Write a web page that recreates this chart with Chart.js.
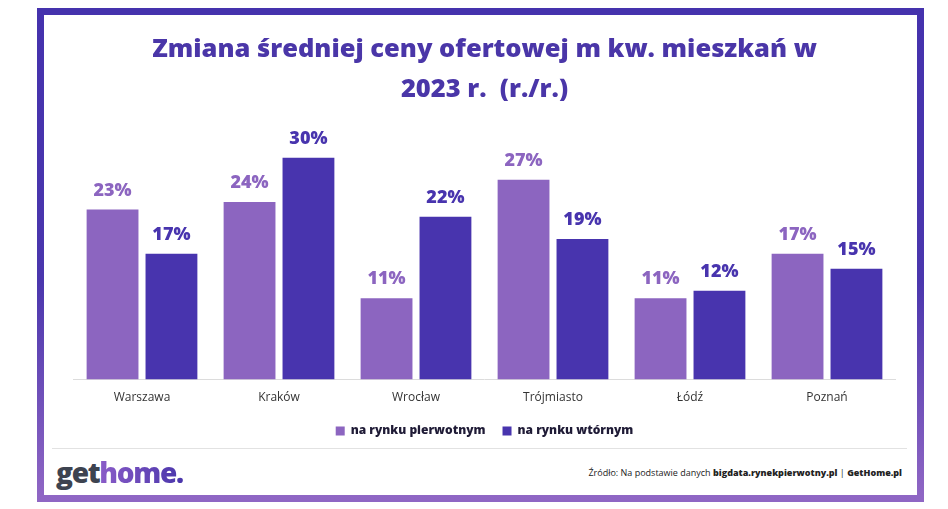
<!DOCTYPE html>
<html>
<head>
<meta charset="utf-8">
<script src="https://cdn.jsdelivr.net/npm/chart.js@4"></script>
<style>
  html, body { margin:0; padding:0; background:#fff; width:948px; height:509px; overflow:hidden; }
  #frame { position:absolute; left:37px; top:8px; width:873px; height:480px; border:7px solid;
           border-image: linear-gradient(to bottom, #4532ad, #4a36ad 55%, #8f66c4) 1; }
  #wrap { position:absolute; left:44px; top:15px; width:874px; height:432px; }
  #sep { position:absolute; left:52px; top:448px; width:855px; height:1px; background:#e2e2e2; }
  #logo { position:absolute; left:56px; top:455px; font-family:"Open Sans", sans-serif; font-weight:800;
          font-size:28px; letter-spacing:-1.3px; line-height:34px; }
  #logo .g { color:#3d4350; }
  #logo .h { background: linear-gradient(to right, #8a5cc8, #4a36ab); -webkit-background-clip:text; background-clip:text; color:transparent; }
  #src { position:absolute; right:46px; top:466px; font-family:"Open Sans", sans-serif; font-size:9px; color:#222; line-height:13px; white-space:nowrap; }
  #src b { font-weight:800; }
</style>
</head>
<body>
<div id="frame"></div>
<div id="sep"></div>
<div id="wrap"><canvas id="c"></canvas></div>
<div id="logo"><span class="g">get</span><span class="h">home.</span></div>
<div id="src">Źródło: Na podstawie danych <b>bigdata.rynekpierwotny.pl</b> | <b>GetHome.pl</b></div>
<script>
const titleLines = ["Zmiana średniej ceny ofertowej m kw. mieszkań w", "2023 r.  (r./r.)"];
const categories = ["Warszawa", "Kraków", "Wrocław", "Trójmiasto", "Łódź", "Poznań"];
const seriesNames = ["na rynku pierwotnym", "na rynku wtórnym"];
const primaryMarket = [23, 24, 11, 27, 11, 17];
const secondaryMarket = [17, 30, 22, 19, 12, 15];
const colorPrimary = "#8c65c0";
const colorSecondary = "#4834ae";

const valueLabels = {
  id: "valueLabels",
  afterDatasetsDraw(chart) {
    const ctx = chart.ctx;
    ctx.save();
    ctx.font = "800 18px 'Open Sans', sans-serif";
    ctx.textAlign = "center";
    ctx.textBaseline = "middle";
    chart.data.datasets.forEach((ds, i) => {
      const meta = chart.getDatasetMeta(i);
      ctx.fillStyle = ds.labelColor;
      meta.data.forEach((bar, j) => {
        ctx.fillText(ds.data[j] + "%", bar.x, bar.y - 19);
      });
    });
    ctx.restore();
  }
};

new Chart(document.getElementById("c"), {
  type: "bar",
  data: {
    labels: categories,
    datasets: [
      { label: seriesNames[0], data: primaryMarket, backgroundColor: colorPrimary, labelColor: colorPrimary,
        categoryPercentage: 0.86, barPercentage: 0.88 },
      { label: seriesNames[1], data: secondaryMarket, backgroundColor: colorSecondary, labelColor: colorSecondary,
        categoryPercentage: 0.86, barPercentage: 0.88 }
    ]
  },
  options: {
    responsive: true,
    maintainAspectRatio: false,
    animation: false,
    devicePixelRatio: 1,
    layout: { padding: { left: 29.5, right: 22.5, top: 0, bottom: 0 } },
    plugins: {
      tooltip: { enabled: false },
      title: {
        display: true,
        text: titleLines,
        color: "#4a36a8",
        font: { family: "'Open Sans', sans-serif", size: 25.5, weight: "800", lineHeight: 1.57 },
        padding: { top: 15, bottom: 18 }
      },
      legend: {
        position: "bottom",
        labels: {
          boxWidth: 9, boxHeight: 9, padding: 17, color: "#1f1b36",
          font: { family: "'Open Sans', sans-serif", size: 12, weight: "800" }
        }
      }
    },
    scales: {
      x: {
        grid: { display: false },
        border: { display: true, color: "#dcdcdc" },
        ticks: { color: "#333", padding: 3, font: { family: "'Open Sans', sans-serif", size: 12 } }
      },
      y: { display: false, min: 0, max: 34 }
    }
  },
  plugins: [valueLabels]
});
</script>
</body>
</html>
